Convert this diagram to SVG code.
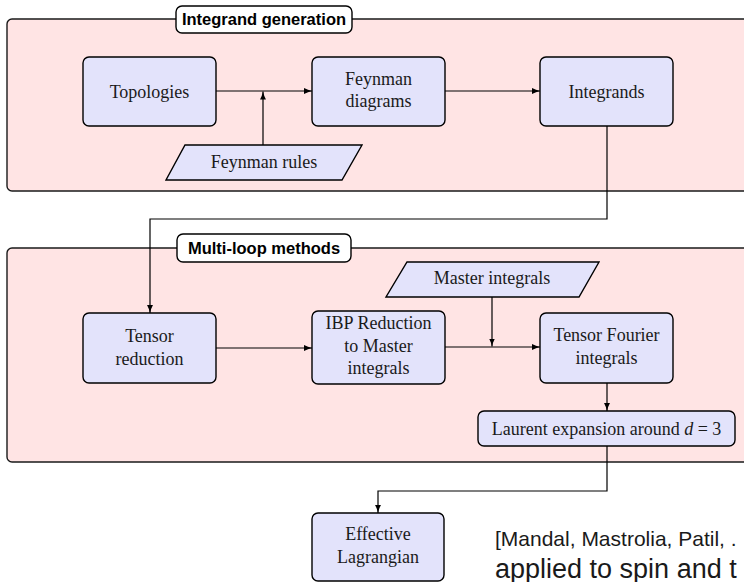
<svg xmlns="http://www.w3.org/2000/svg" width="744" height="582" viewBox="0 0 744 582">
<defs>
<marker id="ah" viewBox="0 0 10 8" refX="10" refY="4" markerWidth="8" markerHeight="6.4" orient="auto" markerUnits="userSpaceOnUse">
<path d="M0,0.3 Q5,3 10,4 Q5,5 0,7.7 z" fill="#000"/>
</marker>
<style>
.panel{fill:#ffe4e4;stroke:#1a1a1a;stroke-width:1.4}
.node{fill:#e3e3fb;stroke:#000;stroke-width:1.4}
.lbl{fill:#fff;stroke:#000;stroke-width:1.4}
.t{font-family:"Liberation Serif","Times New Roman",serif;font-size:18px;fill:#1a1a1a;text-anchor:middle}
.lt{font-family:"Liberation Sans",Arial,sans-serif;font-weight:bold;font-size:16.5px;fill:#000;text-anchor:middle}
.c{fill:none;stroke:#000;stroke-width:1.2}
.a{marker-end:url(#ah)}
.s{font-family:"Liberation Sans",Arial,sans-serif;fill:#1a1a1a}
</style>
</defs>
<rect width="744" height="582" fill="#fff"/>

<g id="panel-integrand">
<rect class="panel" x="7" y="19" width="770" height="172" rx="5"/>
<rect class="lbl" x="176" y="6" width="176" height="27" rx="6"/>
<text class="lt" x="264" y="25">Integrand generation</text>
</g>
<g id="panel-multiloop">
<rect class="panel" x="7" y="248" width="770" height="214" rx="5"/>
<rect class="lbl" x="177" y="234" width="174" height="28" rx="6"/>
<text class="lt" x="264" y="254">Multi-loop methods</text>
</g>

<g id="connectors">
<line class="c a" x1="216" y1="91" x2="312" y2="91"/>
<line class="c a" x1="263" y1="145" x2="263" y2="91.5"/>
<line class="c a" x1="445" y1="91" x2="540" y2="91"/>
<path class="c a" d="M607,126 V219 H150 V313"/>
<line class="c a" x1="216" y1="348" x2="312" y2="348"/>
<line class="c a" x1="445" y1="347" x2="540" y2="347"/>
<line class="c a" x1="492" y1="297" x2="492" y2="346.5"/>
<line class="c a" x1="607" y1="383" x2="607" y2="411"/>
<path class="c a" d="M607,446 V491 H378 V513"/>
</g>

<g id="topologies">
<rect class="node" x="83" y="57" width="133" height="69" rx="6"/>
<text class="t" x="149.5" y="97.5">Topologies</text>
</g>
<g id="feynman-diagrams">
<rect class="node" x="312" y="57" width="133" height="69" rx="6"/>
<text class="t" x="378.5" y="85">Feynman</text>
<text class="t" x="378.5" y="107">diagrams</text>
</g>
<g id="integrands">
<rect class="node" x="540" y="57" width="133" height="69" rx="6"/>
<text class="t" x="606.5" y="97.5">Integrands</text>
</g>
<g id="feynman-rules">
<polygon class="node" points="185,145 362,145 342,180 166,180"/>
<text class="t" x="264" y="168">Feynman rules</text>
</g>

<g id="tensor-reduction">
<rect class="node" x="83" y="313" width="133" height="70" rx="6"/>
<text class="t" x="149.5" y="342">Tensor</text>
<text class="t" x="149.5" y="365">reduction</text>
</g>
<g id="ibp-reduction">
<rect class="node" x="312" y="311" width="133" height="73" rx="6"/>
<text class="t" x="378.5" y="329">IBP Reduction</text>
<text class="t" x="378.5" y="352">to Master</text>
<text class="t" x="378.5" y="374">integrals</text>
</g>
<g id="master-integrals">
<polygon class="node" points="407,262 599,262 579,297 386,297"/>
<text class="t" x="492" y="284">Master integrals</text>
</g>
<g id="tensor-fourier">
<rect class="node" x="540" y="313" width="133" height="70" rx="6"/>
<text class="t" x="606.5" y="341">Tensor Fourier</text>
<text class="t" x="606.5" y="364">integrals</text>
</g>
<g id="laurent">
<rect class="node" x="478" y="411" width="257" height="35" rx="6"/>
<text class="t" x="606.5" y="434.5" font-size="19">Laurent expansion around <tspan font-style="italic">d</tspan> = 3</text>
</g>
<g id="effective-lagrangian">
<rect class="node" x="312" y="513" width="132" height="68" rx="6"/>
<text class="t" x="378" y="540">Effective</text>
<text class="t" x="378" y="563">Lagrangian</text>
</g>

<text class="s" x="495" y="546" font-size="21">[Mandal, Mastrolia, Patil, .</text>
<text class="s" x="495" y="578" font-size="27">applied to spin and t</text>
</svg>
